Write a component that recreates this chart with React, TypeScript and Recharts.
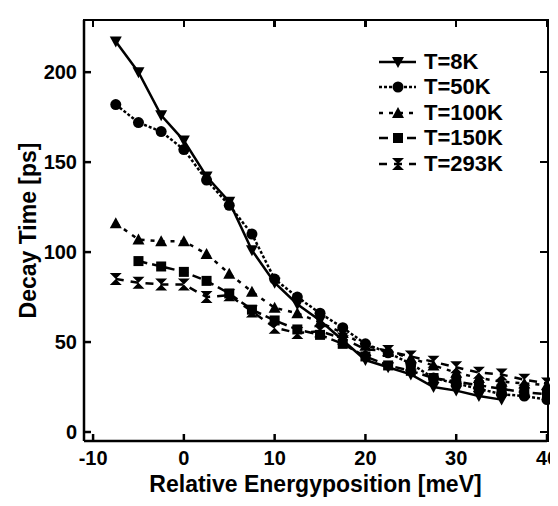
import React from "react";
import { Line, LineChart, XAxis, YAxis } from "recharts";

const energies = [-7.5, -5, -2.5, 0, 2.5, 5, 7.5, 10, 12.5, 15, 17.5, 20, 22.5, 25, 27.5, 30, 32.5, 35, 37.5, 40];
const t8 = [217, 200, 176, 162, 142, 128, 101, 83, 71, 62, 51, 40, 36, 32, 25, 23, 20, 18, null, null];
const t50 = [182, 172, 167, 157, 140, 126, 110, 85, 75, 66, 58, 49, 44, 38, 30, 27, 24, 21, 20, 18];
const t100 = [116, 107, 106, 106, 99, 88, 78, 69, 66, 61, 55, 48, 45, 41, 37, 33, 30, 28, 27, 26];
const t150 = [null, 95, 92, 89, 84, 77, 68, 62, 57, 54, 49, 42, 37, 34, 30, 28, 26, 24, 22, 21];
const t293 = [85, 83, 82, 82, 75, 76, 67, 58, 55, 56, 52, 46, 45, 42, 39, 36, 33, 32, 29, 27];

const xTicks = [-10, 0, 10, 20, 30, 40];
const yTicks = [0, 50, 100, 150, 200];
const xDomain = [-11, 40];
const yDomain = [-5, 229];

const data = energies.map((x, i) => ({ x, t8: t8[i], t50: t50[i], t100: t100[i], t150: t150[i], t293: t293[i] }));

type Shape = "down" | "circle" | "up" | "square" | "hourglass";

const series: { key: string; name: string; shape: Shape; dash?: string }[] = [
  { key: "t8", name: "T=8K", shape: "down" },
  { key: "t50", name: "T=50K", shape: "circle", dash: "3 2" },
  { key: "t100", name: "T=100K", shape: "up", dash: "4 6" },
  { key: "t150", name: "T=150K", shape: "square", dash: "9 5" },
  { key: "t293", name: "T=293K", shape: "hourglass", dash: "8 7" },
];

const W = 558;
const H = 506;
const margin = { top: 20, right: 11, bottom: 10, left: 10 };
const xAxisH = 55;
const yAxisW = 74;

// plot box, same numbers the chart lays itself out with
const boxLeft = margin.left + yAxisW;
const boxTop = margin.top;
const boxRight = W - margin.right;
const boxBottom = H - margin.bottom - xAxisH;

function Marker({ shape, cx, cy }: { shape: Shape; cx: number; cy: number }) {
  if (cx == null || cy == null) return <g />;
  if (shape === "circle") return <circle cx={cx} cy={cy} r={5.5} fill="#000" />;
  if (shape === "square") return <rect x={cx - 5} y={cy - 5} width={10} height={10} fill="#000" />;
  if (shape === "down") return <polygon points={`${cx - 6},${cy - 5} ${cx + 6},${cy - 5} ${cx},${cy + 6}`} fill="#000" />;
  if (shape === "up") return <polygon points={`${cx - 6},${cy + 5} ${cx + 6},${cy + 5} ${cx},${cy - 6}`} fill="#000" />;
  return <polygon points={`${cx - 6},${cy - 6} ${cx + 6},${cy - 6} ${cx - 6},${cy + 6} ${cx + 6},${cy + 6}`} fill="#000" />;
}

const font = "'Liberation Sans', Arial, sans-serif";
const tickStyle = { fill: "#000", fontSize: 20, fontWeight: 700, fontFamily: font };

// top and right edges of the box, with inward ticks, as plain html behind the chart
function Frame() {
  const sx = (v: number) => boxLeft + ((v - xDomain[0]) / (xDomain[1] - xDomain[0])) * (boxRight - boxLeft);
  const sy = (v: number) => boxBottom - ((v - yDomain[0]) / (yDomain[1] - yDomain[0])) * (boxBottom - boxTop);
  return (
    <>
      <div
        style={{
          position: "absolute",
          left: boxLeft - 1,
          top: boxTop - 1,
          width: boxRight - boxLeft + 1,
          height: boxBottom - boxTop,
          borderTop: "2.5px solid #000",
          borderRight: "2.5px solid #000",
        }}
      />
      {xTicks.map((t) => (
        <div key={`x${t}`} style={{ position: "absolute", left: sx(t) - 1.25, top: boxTop, width: 2.5, height: 7, background: "#000" }} />
      ))}
      {yTicks.map((t) => (
        <div key={`y${t}`} style={{ position: "absolute", left: boxRight - 7, top: sy(t) - 1.25, width: 7, height: 2.5, background: "#000" }} />
      ))}
    </>
  );
}

function LegendBox() {
  return (
    <div style={{ position: "absolute", left: 376, top: 49, fontFamily: font, fontWeight: 700, fontSize: 22 }}>
      {series.map((s) => (
        <div key={s.key} style={{ display: "flex", alignItems: "center", height: 25.5 }}>
          <svg width={44} height={20}>
            <line x1={3} x2={40} y1={10} y2={10} stroke="#000" strokeWidth={2.5} strokeDasharray={s.dash} />
            <Marker shape={s.shape} cx={22} cy={10} />
          </svg>
          <span style={{ marginLeft: 4 }}>{s.name}</span>
        </div>
      ))}
    </div>
  );
}

export default function App() {
  return (
    <div style={{ position: "relative", width: W, height: H, margin: -8, background: "#fff" }}>
      <Frame />
      <div style={{ position: "absolute", left: 0, top: 0 }}>
        <LineChart width={W} height={H} data={data} margin={margin}>
          <XAxis
            dataKey="x"
            type="number"
            domain={xDomain}
            ticks={xTicks}
            height={xAxisH}
            stroke="#000"
            strokeWidth={2.5}
            tickSize={-7}
            tickMargin={17}
            tick={tickStyle}
            label={{ value: "Relative Energyposition [meV]", position: "insideBottom", offset: 4, style: { fill: "#000", fontSize: 23, fontWeight: 700, fontFamily: font } }}
          />
          <YAxis
            domain={yDomain}
            ticks={yTicks}
            width={yAxisW}
            stroke="#000"
            strokeWidth={2.5}
            tickSize={-7}
            tickMargin={14}
            tick={tickStyle}
            label={{ value: "Decay Time [ps]", angle: -90, position: "insideLeft", offset: 18, style: { textAnchor: "middle", fill: "#000", fontSize: 23, fontWeight: 700, fontFamily: font } }}
          />
          {series.map((s) => (
            <Line
              key={s.key}
              dataKey={s.key}
              name={s.name}
              stroke="#000"
              strokeWidth={2.5}
              strokeDasharray={s.dash}
              isAnimationActive={false}
              dot={(p: any) => <Marker key={`${s.key}-${p.index}`} shape={s.shape} cx={p.cx} cy={p.cy} />}
            />
          ))}
        </LineChart>
      </div>
      <LegendBox />
    </div>
  );
}
